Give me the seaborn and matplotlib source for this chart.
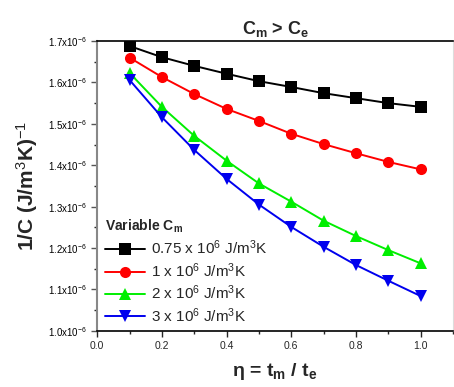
import matplotlib
matplotlib.use("Agg")
import matplotlib.pyplot as plt
import seaborn as sns
import pandas as pd
import numpy as np
from matplotlib.ticker import MultipleLocator, FuncFormatter

eta = [0.1, 0.2, 0.3, 0.4, 0.5, 0.6, 0.7, 0.8, 0.9, 1.0]
c_075 = [1.688, 1.661, 1.640, 1.621, 1.603, 1.589, 1.574, 1.562, 1.550, 1.541]
c_1 = [1.660, 1.613, 1.572, 1.536, 1.507, 1.476, 1.451, 1.429, 1.408, 1.390]
c_2 = [1.623, 1.541, 1.471, 1.411, 1.356, 1.312, 1.266, 1.229, 1.195, 1.163]
c_3 = [1.606, 1.516, 1.437, 1.367, 1.305, 1.251, 1.203, 1.159, 1.121, 1.084]

labels = [r"0.75 x 10$^6$ J/m$^3$K", r"1 x 10$^6$ J/m$^3$K",
          r"2 x 10$^6$ J/m$^3$K", r"3 x 10$^6$ J/m$^3$K"]
colors = ["black", "red", "#00ee00", "#0000ee"]
markers = ["s", "o", "^", "v"]

frames = []
for lab, vals in zip(labels, [c_075, c_1, c_2, c_3]):
    frames.append(pd.DataFrame({"eta": eta, "invC": np.array(vals) * 1e-6, "series": lab}))
df = pd.concat(frames)

sns.set_style("ticks")
plt.rcParams["font.family"] = ["Liberation Sans", "DejaVu Sans"]
plt.rcParams["mathtext.fontset"] = "custom"
plt.rcParams["mathtext.rm"] = "Liberation Sans"
plt.rcParams["mathtext.bf"] = "Liberation Sans:bold"
plt.rcParams["mathtext.it"] = "Liberation Sans:italic"

fig = plt.figure(figsize=(4.54, 3.87), dpi=100)
ax = fig.add_axes([0.214, 0.145, 0.784, 0.749])

sns.lineplot(data=df, x="eta", y="invC", hue="series", style="series",
             palette=colors, markers=markers, dashes=False, ax=ax,
             markersize=8, markeredgewidth=0, linewidth=1.4)

ax.set_xlim(0, 1.1)
ax.set_ylim(1.0e-6, 1.7e-6)
ax.xaxis.set_major_locator(MultipleLocator(0.2))
ax.xaxis.set_minor_locator(MultipleLocator(0.1))
ax.yaxis.set_major_locator(MultipleLocator(0.1e-6))
ax.yaxis.set_minor_locator(MultipleLocator(0.05e-6))
ax.yaxis.set_major_formatter(FuncFormatter(lambda v, p: r"%.1fx10$^{-6}$" % (v * 1e6)))
ax.tick_params(axis="both", which="major", labelsize=7, length=4, width=1, direction="out")
ax.tick_params(axis="x", which="major", labelsize=7.5)
ax.tick_params(axis="both", which="minor", length=2.5, width=1, direction="out")
ax.tick_params(axis="y", colors="#555555", labelcolor="black")

for s in ["top", "bottom"]:
    ax.spines[s].set_visible(True)
    ax.spines[s].set_color("black")
    ax.spines[s].set_linewidth(1.2)
ax.spines["left"].set_color("#888888")
ax.spines["left"].set_linewidth(1.5)
ax.spines["right"].set_visible(True)
ax.spines["right"].set_color("#dddddd")

ax.set_title(r"C$_\mathbf{m}$ > C$_\mathbf{e}$", fontsize=13, fontweight="bold", pad=5)
ax.set_xlabel(r"$\mathbf{\eta}$ = t$_\mathbf{m}$ / t$_\mathbf{e}$", fontsize=14, fontweight="bold", labelpad=7)
ax.set_ylabel(r"1/C (J/m$^3$K)$^{-1}$", fontsize=15, fontweight="bold", labelpad=6)

leg = ax.legend(title=r"Variable C$_\mathbf{m}$", loc="lower left", frameon=False,
                fontsize=11, title_fontsize=10, handlelength=2.6, borderaxespad=0.1,
                labelspacing=0.25, handletextpad=0.4, bbox_to_anchor=(0.0, -0.005))
leg.get_title().set_fontweight("bold")
leg._legend_box.align = "left"
for h in leg.legend_handles:
    h.set_markersize(8)

fig.savefig("out.png", dpi=100)
